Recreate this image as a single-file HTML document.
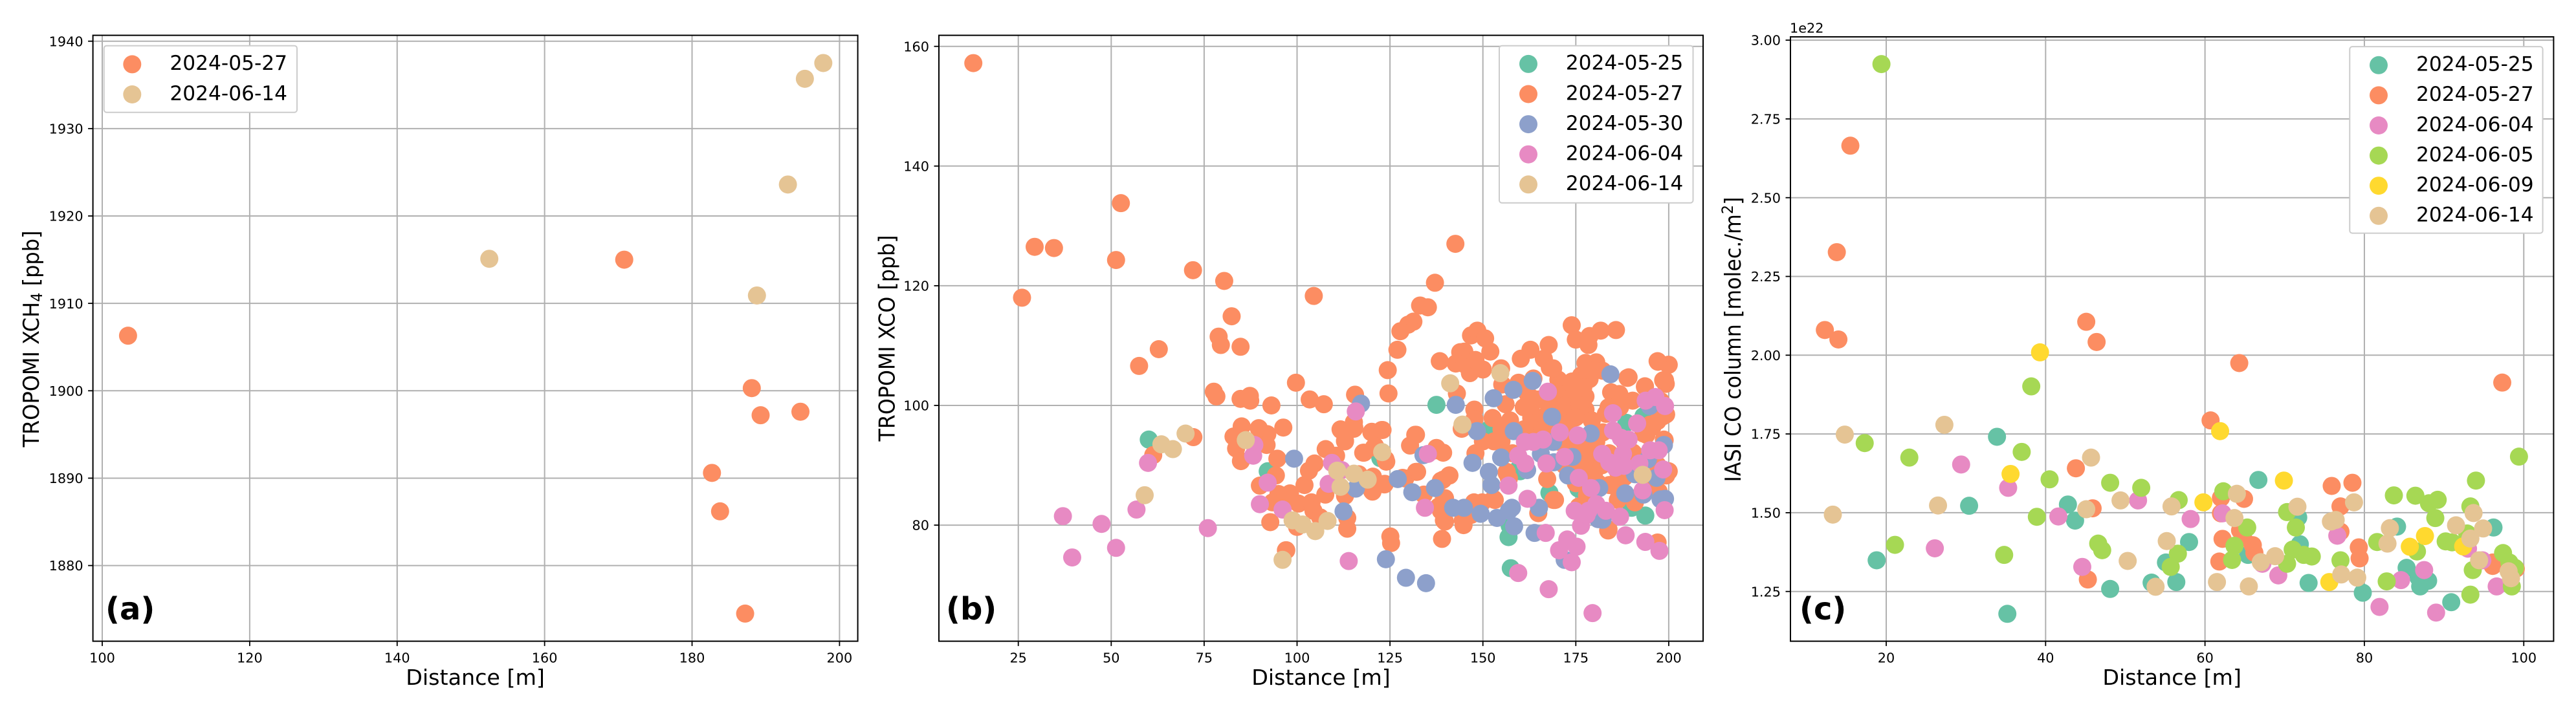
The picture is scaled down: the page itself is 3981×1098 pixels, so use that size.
<!DOCTYPE html>
<html lang="en">
<head>
<meta charset="utf-8">
<title>Distance scatter panels</title>
<style>
html,body{margin:0;padding:0;background:#fff;}
svg{display:block;font-family:"DejaVu Sans","Liberation Sans",sans-serif;}
</style>
</head>
<body>
<svg id="figure" xmlns="http://www.w3.org/2000/svg" width="3981" height="1098" viewBox="0 0 3981 1098">
<rect x="0" y="0" width="3981" height="1098" fill="#ffffff"/>
</svg>
<script>
// ---------- Panel (a) data: [distance m, XCH4 ppb] ----------
const aXTicks = [100,120,140,160,180,200];
const aYTicks = ["1880","1890","1900","1910","1920","1930","1940"];
const aDates = ["2024-05-27","2024-06-14"];
const a0527 = [[103.5,1906.3],[170.8,1915],[188.1,1900.3],[189.3,1897.2],[194.7,1897.6],[182.7,1890.6],[183.8,1886.2],[187.2,1874.5]];
const a0614 = [[152.5,1915.1],[188.8,1910.9],[193,1923.6],[195.3,1935.7],[197.8,1937.5]];

// ---------- Panel (b) data: [distance m, XCO ppb] ----------
const bXTicks = [25,50,75,100,125,150,175,200];
const bYTicks = ["80","100","120","140","160"];
const bDates = ["2024-05-25","2024-05-27","2024-05-30","2024-06-04","2024-06-14"];
const b0525 = [[60.1,94.3],[92.1,89],[122.4,91.2],[137.5,100.1],[151.7,96],[151.2,95.3],[156.9,78],[157.2,79.9],[157.5,72.8],[159.6,89.4],[160,89],[167.9,85.4],[175.7,86.1],[176.5,85.9],[188.6,97.1],[193.2,98.2],[190,82.9],[193.7,81.6],[191.2,91.6]];
const b0527 = [[12.9,157.2],[26,118],[29.4,126.5],[34.6,126.3],[52.6,133.8],[51.3,124.3],[57.5,106.6],[62.8,109.4],[72,122.6],[80.4,120.8],[82.4,114.9],[78.9,111.5],[79.5,110.1],[84.8,109.8],[104.5,118.3],[142.6,127],[137.1,120.5],[133.1,116.7],[135.2,116.4],[131.3,114],[129.9,113.5],[127.8,112.4],[127,109.3],[61.3,91.7],[72.1,94.7],[97,75.8],
[77.6,102.3],[78.3,101.5],[84.8,101.1],[87.3,101.6],[87.4,100.8],[93.1,100],[99.7,103.8],[103.4,101],[107.2,100.2],[115.6,101.8],[124.4,105.9],[124.6,102],[85.1,96.5],[89.7,96.2],[92,95.2],[96.3,96.3],[82.9,94.8],[83.6,92.8],[91.8,93.4],[84.9,90.7],[94.7,91.1],[94.3,88.3],[90,86.6],[95,85.2],[98.1,85.3],[102,86.7],[104.7,90.3],[103.2,89.1],[107.7,92.7],[110.5,91.6],[111.8,95.9],[115.3,96.1],[115.3,97.2],[112.9,94.1],[120.1,95.6],[122.8,95.9],[117.8,92.1],[120.7,93],[123.8,91],[107.6,85.1],[112.9,84.9],[120.3,85.6],[123.6,86.9],[120.4,88.1],[116.6,88.5],[129.1,87.8],[132.3,88.9],[131.8,95.1],[130.4,93.3],[137.2,92.5],[139.3,92.1],[134.1,85.1],[138.1,83.1],[139.3,87.6],[139.5,80.8],[139,77.7],[93.4,83.8],[98.3,84.2],[100.4,83.6],[103.9,83.8],[104.4,82.4],[106.2,81.3],[113.5,81.2],[113.5,79.4],[92.8,80.5],[100,79.7],[125.1,78.1],[125.3,77],[97.1,75.8],
[138.4,107.4],[142.7,107],[143.9,108.9],[146.8,111.7],[148.5,112.5],[150.6,111.2],[152,109],[145,109],[146.5,105.4],[150,106],[145,106.9],[148,107.6],[154.9,106.2],[143,102],[155.2,103.5],[160.2,107.8],[162.8,109.3],[167.7,110.1],[166.4,107.8],[168,106.3],[159.6,103.8],[163.6,104.5],[170.3,104.3],[147.7,99.3],[152.6,97.9],[156.1,100.2],[157.3,97.5],[147.7,97.7],[161,99.7],[163.6,101.1],[167.7,100],[163,97.9],[171.2,102.6],[172.3,99.7],[165.4,96.8],
[173.9,113.4],[175,111],[178.4,110.1],[178.7,111.6],[181.7,112.5],[185.8,112.6],[177.6,107.1],[180.5,107.2],[176.4,105],[182.2,105.8],[178.7,104.4],[184.5,102.2],[189.2,104.7],[193.6,103.2],[198.5,104.2],[197.1,107.3],[199.9,106.8],[199.2,103.6],[177.6,101.5],[170.6,103.6],[171.8,101.8],[168.9,106.2],[177.6,99.3],[183.1,98.6],[186.9,99.7],[190.3,100.8],[198.5,98.2],[195,96.8],[174.7,102.2],[174,97.9],[179.3,97.5],[186.9,101.5],[197.9,100.7],[171.2,98.9],
[144.3,96.1],[154.9,93.9],[156.4,88.9],[157,87.8],[141,88.3],[138.7,87.4],[139.8,84.5],[138.7,82.4],[139.8,80.6],[144.8,80],[149.1,83.5],[152.9,84.4],[146.8,81.7],[164.9,82],[167.3,87.7],[169,84.2],
[198.7,94.3],[199.6,88.9],[197.3,85.6],[186.3,86.7],[184,86.7],[186.3,84.2],[183.7,79.1],[169.4,84.2],[175.8,83.1],[197,77.1],[177.6,93.2],[178.1,91],[179.9,88.7],[176.4,89.6],[190.9,83.8],[193.2,95.3],[195.6,96.4],[180.5,93.9],
[170,102],[172,100],[174,104],[176,100],[177,103],[178,106],[175,98],[173,96],[170,97],[168,95],[166,98],[163,100],[161,96],[162,102],[165,101],[158,92],[155,96],[153,94],[150,94],[148,92],
[155,94],[155.9,92.1],[156.4,88.7],[153.2,84.2],[149.8,83.8],[147.6,83.8],[144.6,80.8],[140.9,88.3],[139.5,84.5],[137.5,92.9],[132,95.1],[132,88.9],[128.4,87.9],[124,90.6],[123,95.9],[120,95.5],[121,93.2],[118,92.1],[115.4,96.3],[115,96.6],[112.9,94],[111.7,96],[120.2,87.9],[120.2,85.7],[123.5,86.8],
[183.8,79.3],[200,89],[199.3,88.3],[198.9,94.2],[186.7,85.3],[191,84.5],[186.3,89],[190.4,92.1],[194,95.1],[197,97.4],[199.3,98.5],[180.8,92.1],[176.4,88.3],[179.3,89],[177.8,92.9],[182.3,95.5],[183.8,99.7],[186.7,101.9],[188.9,104.6],[193.6,103.1],[200,106.8],[197,107.4],[199,104.2],[162.5,96.4],[166,96.1],[170.6,93.9],[172,94.5],[174,93],[172,90],[175,87],[178,85],[182,90],[184,92],[188,94],[192,90],[195,87],[197,90],[188,88],[181,87]];
const b0530 = [[99.2,91.1],[117.2,100.3],[134,91.7],[127.1,87.7],[131,85.5],[137.1,86.2],[115.8,86.1],[112.5,82.3],[123.9,74.3],[129.3,71.2],[134.7,70.3],[142.7,100.1],[152.9,101.2],[158.2,102.6],[163.4,104.1],[168.6,98.1],[148.4,95.7],[158.3,95.7],[147.2,90.4],[154.9,91.3],[151.6,88.9],[152.3,86.7],[142,82.9],[144.9,82.9],[149.4,81.9],[153.8,81.2],[157.8,82.9],[157,82.4],[158.4,79.8],[165.1,82.9],[163.9,78.7],[161.9,89.2],[165.6,91.9],[169.1,90.5],[168.9,93.9],[184.3,105.2],[179,95.3],[194.9,99.9],[174.1,91.4],[172.9,88.3],[181.3,86.2],[188.3,85.3],[193.2,85.1],[190.9,88.5],[196.7,87.9],[199,84.4],[197.8,84.3],[198.7,93.4],[182.2,80.9],[194.4,91],[172,74.2],[181,81]];
const b0604 = [[37,81.5],[39.5,74.6],[47.4,80.2],[51.3,76.2],[56.8,82.6],[59.9,90.4],[76,79.5],[88.5,93.4],[88.2,91.6],[92.1,87.1],[90,83.5],[96.1,82.6],[115.8,99],[109.4,90.4],[112,89.2],[108.5,86.9],[135.2,91.9],[134.4,82.9],[113.9,74],[167.5,102.3],[161.3,93.9],[163.6,93.9],[166.2,94.3],[170.7,95.5],[159.5,91.6],[161.4,90.3],[167.1,90.3],[172,91.4],[156.9,86.6],[162,84.4],[166.9,78.7],[175.5,95],[185,95.8],[191.5,97],[187.1,94.6],[189.2,94.3],[182.1,91.9],[187.7,91.9],[184,90.5],[185.7,89.6],[188,89.9],[192.1,90.3],[195,92.5],[197.3,92.5],[198.5,89.3],[175.8,87.9],[179.1,86.2],[193,85.8],[180.5,83.5],[174.7,82.4],[178.4,82.4],[176.4,79.9],[177.9,81.7],[183.1,82.4],[186.9,81.4],[198.9,82.5],[188.4,78.3],[193.7,77.2],[172.7,77.6],[170.5,75.8],[173.9,73.8],[175.2,76.4],[197.5,75.7],[159.5,72],[167.7,69.3],[179.5,65.3],[193.8,100.8],[196.4,101.4],[199,99.9],[185,98.7]];
const b0614 = [[59,85],[63.5,93.5],[66.6,92.7],[70,95.3],[86.2,94.2],[110.8,89.1],[115.3,88.6],[119,87.6],[111.7,86.4],[122.9,92.2],[98.8,80.8],[101.5,80.1],[104.9,79],[108.2,80.7],[96.1,74.2],[141.2,103.7],[144.5,96.8],[154.7,105.4],[193,88.4]];

// ---------- Panel (c) data: [distance m, CO column in 1e22 molec./m2] ----------
const cXTicks = [20,40,60,80,100];
const cYTicks = ["1.25","1.50","1.75","2.00","2.25","2.50","2.75","3.00"];
const cDates = ["2024-05-25","2024-05-27","2024-06-04","2024-06-05","2024-06-09","2024-06-14"];
const c0525 = [[33.9,1.741],[30.4,1.522],[42.8,1.526],[43.7,1.475],[18.8,1.349],[48.1,1.258],[53.3,1.278],[35.2,1.179],[55.1,1.342],[56.4,1.28],[58,1.407],[66.7,1.604],[71.7,1.485],[71.9,1.4],[65.4,1.366],[73,1.277],[79.8,1.246],[84.1,1.456],[96.2,1.453],[85.3,1.325],[88,1.284],[87,1.266],[86.8,1.294],[90.9,1.216]];
const c0527 = [[15.5,2.665],[13.8,2.327],[12.3,2.08],[14,2.05],[45.1,2.106],[46.4,2.042],[64.3,1.975],[97.3,1.913],[43.8,1.641],[45.9,1.514],[45.3,1.288],[60.7,1.793],[75.9,1.585],[78.5,1.595],[62,1.547],[64.9,1.544],[62,1.498],[77,1.52],[77,1.44],[79.3,1.39],[79.4,1.355],[96.1,1.342],[96.1,1.331],[99,1.322],[66.2,1.373],[66,1.397],[64.8,1.42],[64.4,1.444],[62.2,1.417],[61.8,1.345]];
const c0604 = [[29.4,1.653],[35.3,1.579],[51.6,1.539],[41.6,1.488],[26.1,1.387],[44.6,1.328],[58.2,1.48],[62.2,1.498],[76.6,1.427],[93,1.386],[84.6,1.286],[87.5,1.318],[94.8,1.349],[96.6,1.266],[81.9,1.201],[89,1.183],[67.2,1.338],[69.2,1.301]];
const c0605 = [[19.4,2.924],[38.2,1.901],[17.3,1.721],[37,1.693],[22.9,1.675],[40.5,1.606],[48.1,1.595],[52,1.579],[38.9,1.487],[21.1,1.398],[34.8,1.366],[46.6,1.402],[47.1,1.381],[56.7,1.54],[56.6,1.37],[55.7,1.328],[99.4,1.678],[94,1.602],[62.3,1.568],[65.3,1.453],[70.3,1.502],[71.4,1.453],[83.7,1.555],[86.4,1.554],[88.1,1.53],[89.2,1.541],[88.9,1.483],[93.3,1.52],[92.9,1.434],[90.2,1.409],[91,1.406],[86.6,1.377],[81.6,1.407],[77,1.349],[82.8,1.282],[93.6,1.318],[97.4,1.372],[98.2,1.342],[98.9,1.325],[98.5,1.266],[93.3,1.24],[70.3,1.338],[71,1.383],[72.4,1.366],[73.4,1.361],[63.7,1.395],[63.4,1.35]];
const c0609 = [[39.3,2.009],[35.6,1.623],[61.9,1.759],[69.9,1.602],[59.8,1.533],[87.6,1.426],[92.4,1.393],[85.7,1.392],[75.6,1.28]];
const c0614 = [[27.3,1.779],[14.8,1.748],[45.7,1.675],[49.4,1.539],[26.5,1.523],[13.3,1.494],[45.1,1.511],[50.3,1.347],[55.8,1.52],[55.2,1.41],[53.8,1.265],[64,1.56],[63.7,1.483],[71.6,1.519],[78.7,1.533],[75.8,1.472],[76.4,1.477],[83.2,1.451],[93.7,1.499],[91.5,1.46],[94.9,1.45],[93.3,1.418],[82.9,1.402],[77.1,1.304],[79.1,1.294],[94.4,1.349],[98.1,1.314],[98.4,1.292],[68.8,1.362],[67,1.343],[61.5,1.28],[65.5,1.266]];

// ---------- Axis functions ----------
const aX = v => 158 + (v - 100) * 11.394;
const aY = v => 874.6 - (v - 1880) * 13.515;
const bX = v => 1573.7 + (v - 25) * 5.744;
const bY = v => 812.1 - (v - 80) * 9.255;
const cX = v => 2915 + (v - 20) * 12.316;
const cY = v => 914.7 - (v - 1.25) * 487.2;

const dateColor = {
  "2024-05-25":"#66c2a5","2024-05-27":"#fc8d62","2024-05-30":"#8da0cb",
  "2024-06-04":"#e78ac3","2024-06-05":"#a6d854","2024-06-09":"#ffd92f","2024-06-14":"#e5c494"
};

const NS = "http://www.w3.org/2000/svg";
const fig = document.getElementById("figure");
function mk(tag, attrs, parent){
  const el = document.createElementNS(NS, tag);
  for (const k in attrs) el.setAttribute(k, attrs[k]);
  (parent || fig).appendChild(el);
  return el;
}

function drawPanel(p){
  const g = mk("g", {});
  
  

  // grid + ticks
  p.xTicks.forEach(t => {
    const x = p.x(+t);
    const gl = mk("line", {x1:x, x2:x, y1:p.top, y2:p.bottom, stroke:"#b0b0b0", "stroke-width":2}, g);
    
    
    const tk = mk("line", {x1:x, x2:x, y1:p.bottom, y2:p.bottom + 7.5, stroke:"#000", "stroke-width":1.8}, g);
    
    
    const lb = mk("text", {x:x, y:1024.5, "text-anchor":"middle", "font-size":20.8, fill:"#000"}, g);
    
    
    lb.textContent = String(t);
  });
  p.yTicks.forEach(t => {
    const y = p.y(+t);
    const gl = mk("line", {x1:p.left, x2:p.right, y1:y, y2:y, stroke:"#b0b0b0", "stroke-width":2}, g);
    
    
    const tk = mk("line", {x1:p.left - 7.5, x2:p.left, y1:y, y2:y, stroke:"#000", "stroke-width":1.8}, g);
    
    
    const lb = mk("text", {x:p.left - 15, y:y + 7.6, "text-anchor":"end", "font-size":20.8, fill:"#000"}, g);
    
    
    lb.textContent = t;
  });

  // marks
  p.series.forEach((pts, i) => {
    const date = p.dates[i];
    const sg = mk("g", {fill:dateColor[date]}, g);
    
    
    pts.forEach(d => {
      const c = mk("circle", {cx:p.x(d[0]), cy:p.y(d[1]), r:14}, sg);
      
      
    });
  });

  // spines
  const sp = mk("rect", {x:p.left, y:p.top, width:p.right - p.left, height:p.bottom - p.top, fill:"none", stroke:"#000", "stroke-width":2}, g);
  
  

  // x label
  const xl = mk("text", {x:(p.left + p.right) / 2, y:1059, "text-anchor":"middle", "font-size":33.3, fill:"#000"}, g);
  
  
  xl.textContent = "Distance [m]";

  // panel letter
  const pl = mk("text", {x:p.letterX, y:958, "font-size":48, "font-weight":"bold", fill:"#000"}, g);
  
  
  pl.textContent = "(" + p.id + ")";

  // legend
  const lg = mk("g", {}, g);
  
  
  const box = mk("rect", {x:p.legend.x, y:p.legend.y, width:p.legend.w, height:p.legend.h, rx:4, ry:4, fill:"#fff", stroke:"#cccccc", "stroke-width":2}, lg);
  
  
  p.dates.forEach((d, i) => {
    const my = p.legend.firstY + i * 46.6;
    const m = mk("circle", {cx:p.legend.markerX, cy:my, r:14, fill:dateColor[d]}, lg);
    
    
    const tx = mk("text", {x:p.legend.textX, y:my + 8.8, "font-size":31.25, fill:"#000"}, lg);
    
    
    tx.textContent = d;
  });
  return g;
}

const gA = drawPanel({id:"a", x:aX, y:aY, left:143.6, right:1325.6, top:54.6, bottom:991.6, xTicks:aXTicks, yTicks:aYTicks, dates:aDates, series:[a0527,a0614], letterX:163,
  legend:{x:160.7, y:70.7, w:298.3, h:103, markerX:204.3, textX:262.4, firstY:99.4}});
const gB = drawPanel({id:"b", x:bX, y:bY, left:1451, right:2632, top:54.6, bottom:991.6, xTicks:bXTicks, yTicks:bYTicks, dates:bDates, series:[b0525,b0527,b0530,b0604,b0614], letterX:1462,
  legend:{x:2317, y:70.7, w:299.5, h:243, markerX:2362, textX:2419.7, firstY:98.9}});
const gC = drawPanel({id:"c", x:cX, y:cY, left:2767, right:3946.4, top:57, bottom:991.6, xTicks:cXTicks, yTicks:cYTicks, dates:cDates, series:[c0525,c0527,c0604,c0605,c0609,c0614], letterX:2781,
  legend:{x:3631.3, y:72.1, w:298.3, h:288.5, markerX:3676, textX:3734, firstY:100.8}});

// y-axis titles
const yA = mk("text", {transform:"translate(60,524) rotate(-90)", "text-anchor":"middle", "font-size":34, fill:"#000", textLength:335, lengthAdjust:"spacingAndGlyphs"}, gA);


yA.innerHTML = 'TROPOMI XCH<tspan font-size="24" dy="5">4</tspan><tspan dy="-5"> [ppb]</tspan>';

const yB = mk("text", {transform:"translate(1382.4,523) rotate(-90)", "text-anchor":"middle", "font-size":34, fill:"#000", textLength:319, lengthAdjust:"spacingAndGlyphs"}, gB);


yB.textContent = "TROPOMI XCO [ppb]";

const yC = mk("text", {transform:"translate(2690,525) rotate(-90)", "text-anchor":"middle", "font-size":34, fill:"#000", textLength:441, lengthAdjust:"spacingAndGlyphs"}, gC);


yC.innerHTML = 'IASI CO column [molec./m<tspan font-size="24" dy="-12">2</tspan><tspan dy="12">]</tspan>';

const off = mk("text", {x:2766, y:50.5, "font-size":20.8, fill:"#000"}, gC);


off.textContent = "1e22";
</script>
</body>
</html>
